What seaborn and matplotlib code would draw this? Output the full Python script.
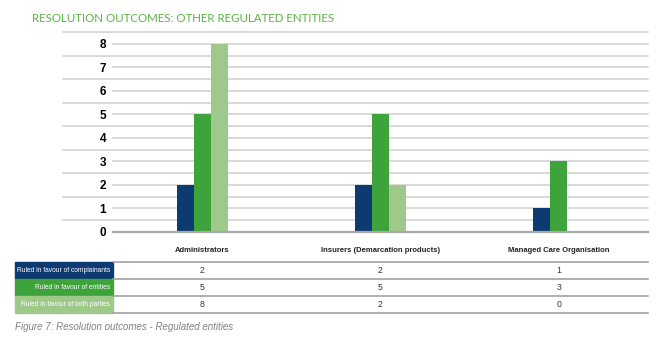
import pandas as pd
import seaborn as sns
import matplotlib.pyplot as plt
from matplotlib.transforms import blended_transform_factory

entities = ["Administrators", "Insurers (Demarcation products)", "Managed Care Organisation"]
outcomes = ["Ruled in favour of complainants", "Ruled in favour of entities", "Ruled in favour of both parties"]
complainants = [2, 2, 1]
entities_won = [5, 5, 3]
both_parties = [8, 2, 0]
colors = ["#0e3a72", "#3ea33a", "#9fc98a"]

df = pd.DataFrame({
    "Entity": entities * 3,
    "Outcome": [o for o in outcomes for _ in entities],
    "Count": complainants + entities_won + both_parties,
})

W, H = 660, 351
fig = plt.figure(figsize=(6.6, 3.51), dpi=100)
plt.rcParams["font.family"] = ["Liberation Sans", "DejaVu Sans"]


def fx(px):
    return px / W


def fy(py):
    return 1 - py / H


ax = fig.add_axes([fx(113), fy(232), fx(648) - fx(113), fy(32) - fy(232)])

# gridlines: half steps stretch further left than integer steps
ytr = ax.get_yaxis_transform()
for v in [i * 0.5 for i in range(1, 18)]:
    x0 = 0 if v == int(v) else -50 / 535
    ax.plot([x0, 1], [v, v], transform=ytr, color="#cfcfcf", lw=1.1,
            clip_on=False, zorder=0)
ax.plot([0, 1], [0, 0], transform=ytr, color="#a8a8a8", lw=1.6, clip_on=False, zorder=3)

sns.barplot(data=df, x="Entity", y="Count", hue="Outcome", hue_order=outcomes,
            palette=colors, width=0.286, gap=0, saturation=1, ax=ax,
            legend=False, zorder=2)

ax.set_xlim(-0.5, 2.5)
ax.set_ylim(0, 8.5)
ax.set_yticks(range(0, 9))
ax.set_yticklabels([str(i) for i in range(0, 9)], fontsize=8.5, fontweight="bold")
ax.tick_params(axis="y", length=0, pad=5)
ax.set_xticks([])
ax.set_xlabel("")
ax.set_ylabel("")
for s in ax.spines.values():
    s.set_visible(False)

# table beneath the chart
tr = blended_transform_factory(ax.transData, fig.transFigure)
for i, name in enumerate(entities):
    fig.text(i, fy(251), name, transform=tr, ha="center", va="center",
             fontsize=5.5, fontweight="bold", color="#222222")

row_vals = [complainants, entities_won, both_parties]
row_top = [262, 279, 296]
for r, (label, vals, col) in enumerate(zip(outcomes, row_vals, colors)):
    top = row_top[r]
    fig.patches.append(plt.Rectangle((fx(15), fy(top + 17)), fx(113) - fx(15),
                                     fy(top) - fy(top + 17), transform=fig.transFigure,
                                     color=col, zorder=1))
    fig.text(fx(110), fy(top + 8.5), label, ha="right", va="center",
             fontsize=4.75, color="white")
    for i, v in enumerate(vals):
        fig.text(i, fy(top + 8.5), str(v), transform=tr, ha="center", va="center",
                 fontsize=6.3, color="#333333")

for py in [262, 279, 296, 313]:
    fig.add_artist(plt.Line2D([fx(113), fx(648)], [fy(py), fy(py)],
                              transform=fig.transFigure, color="#9a9a9a", lw=1.1))

fig.text(fx(32), fy(18), "RESOLUTION OUTCOMES: OTHER REGULATED ENTITIES",
         fontsize=8.3, color="#5cb346", va="center", ha="left",
         family=["Lato", "DejaVu Sans"])
fig.text(fx(15), fy(327), "Figure 7: Resolution outcomes - Regulated entities",
         fontsize=7, color="#808080", style="italic", va="center", ha="left")

fig.savefig("out.png", dpi=100)
